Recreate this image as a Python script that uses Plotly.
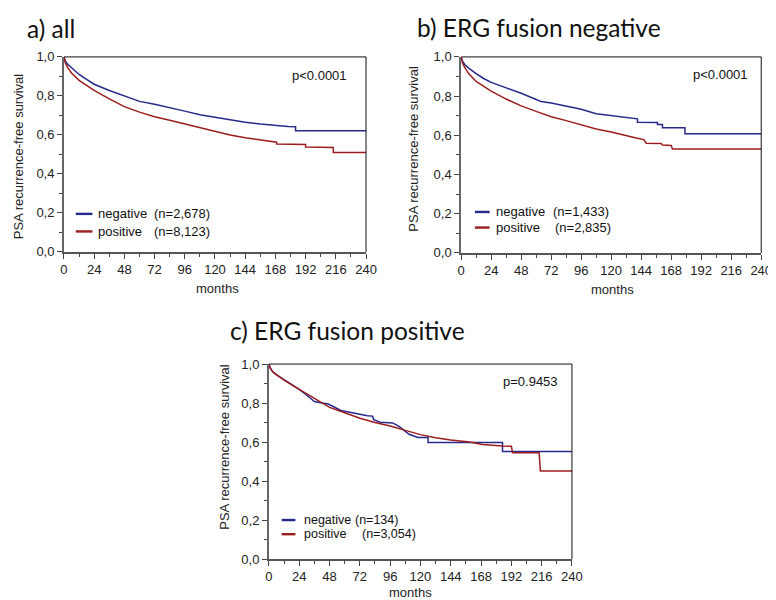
import plotly.graph_objects as go

# ---------------- data ----------------
x_ticks = [0, 24, 48, 72, 96, 120, 144, 168, 192, 216, 240]
y_ticks = [0.0, 0.2, 0.4, 0.6, 0.8, 1.0]

# a) all
a_neg_t = [0, 1, 3, 6, 12, 18, 24, 36, 48, 60, 72, 84, 96, 108, 120, 132, 144, 156, 168, 178,
           184, 184, 240]
a_neg_s = [1, 0.98, 0.962, 0.945, 0.91, 0.885, 0.86, 0.828, 0.80, 0.772, 0.757, 0.741, 0.722, 0.703,
           0.69, 0.676, 0.665, 0.656, 0.648, 0.643, 0.642, 0.622, 0.622]
a_pos_t = [0, 1, 3, 6, 12, 18, 24, 36, 48, 60, 72, 84, 96, 108, 120, 132, 144, 156, 169, 169,
           192, 192, 214, 214, 240]
a_pos_s = [1, 0.97, 0.945, 0.918, 0.88, 0.853, 0.828, 0.785, 0.745, 0.717, 0.693, 0.675, 0.656, 0.638,
           0.62, 0.60, 0.585, 0.575, 0.563, 0.553, 0.551, 0.538, 0.536, 0.51, 0.51]

# b) ERG fusion negative
b_neg_t = [0, 1, 3, 6, 12, 18, 24, 36, 48, 60, 64, 72, 84, 96, 108, 120, 132, 141, 141, 157, 157,
           161, 161, 179, 179, 240]
b_neg_s = [1, 0.98, 0.96, 0.943, 0.915, 0.89, 0.87, 0.843, 0.815, 0.783, 0.772, 0.765, 0.75, 0.733,
           0.71, 0.70, 0.688, 0.684, 0.667, 0.665, 0.655, 0.655, 0.638, 0.638, 0.608, 0.608]
b_pos_t = [0, 1, 3, 6, 12, 18, 24, 36, 48, 60, 72, 84, 96, 108, 120, 128, 140, 146, 148, 160, 161,
           168, 169, 240]
b_pos_s = [1, 0.97, 0.945, 0.915, 0.875, 0.85, 0.825, 0.785, 0.75, 0.722, 0.695, 0.675, 0.652, 0.632,
           0.617, 0.603, 0.586, 0.578, 0.56, 0.558, 0.55, 0.548, 0.53, 0.53]

# c) ERG fusion positive
c_neg_t = [0, 1, 3, 6, 12, 18, 24, 31, 36, 42, 47, 57, 67, 78, 82, 83, 88, 98, 103, 107, 111, 118,
           126, 126, 185, 185, 240]
c_neg_s = [1, 0.98, 0.96, 0.945, 0.92, 0.895, 0.87, 0.835, 0.808, 0.80, 0.795, 0.762, 0.748, 0.735,
           0.733, 0.715, 0.702, 0.698, 0.68, 0.66, 0.64, 0.623, 0.623, 0.598, 0.598, 0.552, 0.552]
c_pos_t = [0, 1, 3, 6, 12, 18, 24, 36, 48, 60, 72, 84, 96, 108, 120, 132, 144, 159, 169, 185, 192,
           193, 214, 215, 240]
c_pos_s = [1, 0.98, 0.96, 0.945, 0.918, 0.893, 0.87, 0.82, 0.778, 0.75, 0.722, 0.70, 0.682, 0.66,
           0.638, 0.622, 0.61, 0.60, 0.588, 0.58, 0.578, 0.545, 0.545, 0.452, 0.452]

panel_titles = ["a) all", "b) ERG fusion negative", "c) ERG fusion positive"]
p_values = ["p<0.0001", "p<0.0001", "p=0.9453"]
group_names = ["negative", "positive"]
n_labels = [["(n=2,678)", "(n=8,123)"], ["(n=1,433)", "(n=2,835)"], ["(n=134)", "(n=3,054)"]]

# ---------------- styling ----------------
W, H = 776, 600
BLUE = "#27298a"
RED = "#9c1d1d"
AX_FONT = "Liberation Sans, Arial, sans-serif"
TITLE_FONT = "Lato, Open Sans, sans-serif"
FS = 13

def px(x):
    return x / W

def py(y):
    return 1 - y / H

# plot areas in pixels: left, right, top, bottom
areas = [(53, 361, 43, 243), (458, 764, 43, 244), (262, 571, 358, 558)]
ids = [("x", "y"), ("x2", "y2"), ("x3", "y3")]
series = [
    [(a_neg_t, a_neg_s), (a_pos_t, a_pos_s)],
    [(b_neg_t, b_neg_s), (b_pos_t, b_pos_s)],
    [(c_neg_t, c_neg_s), (c_pos_t, c_pos_s)],
]

fig = go.Figure()
layout = dict(
    width=W, height=H, margin=dict(l=0, r=0, t=0, b=0),
    paper_bgcolor="white", plot_bgcolor="white", showlegend=False,
    separators=",.",
)
shapes = []
annotations = []

# per-panel text placement (pixels)
title_pos = [(13, 14), (411, 13), (220, 324)]
ylab_pos = [(6, 145), (409, 137), (217, 443)]
xlab_pos = [(210, 280), (612, 282), (406, 592)]
p_pos = [(344, 62), (753, 61), (559, 376)]
leg_line = [(65, 82), (472, 487), (275, 289)]
leg_rows = [(204, 222), (202, 218), (518, 532.5)]
leg_text_x = [86, 492, 296]
leg_n_x = [[143, 143], [550, 552], [348, 355]]

for i, ((l, r, t, b), (xa, ya)) in enumerate(zip(areas, ids)):
    for (tt, ss), name, col, n in zip(series[i], group_names, [BLUE, RED], n_labels[i]):
        fig.add_trace(go.Scatter(
            x=tt, y=ss, mode="lines",
            line=dict(color=col, width=1.5), name=f"{name} {n}",
            xaxis=xa, yaxis=ya, showlegend=False, hoverinfo="x+y",
        ))
    xkey = "xaxis" if xa == "x" else "xaxis" + xa[1:]
    ykey = "yaxis" if ya == "y" else "yaxis" + ya[1:]
    layout[xkey] = dict(
        domain=[px(l), px(r)], anchor=ya, range=[0, 240],
        tickvals=x_ticks, ticks="outside", ticklen=5, tickwidth=1, tickcolor="#444",
        showline=True, linecolor="#555", linewidth=1.5, showgrid=False, zeroline=False,
        tickfont=dict(family=AX_FONT, size=FS, color="#222"),
        minor=dict(ticks="outside", ticklen=3, dtick=12, tick0=0, tickcolor="#444", showgrid=False),
        fixedrange=True,
    )
    layout[ykey] = dict(
        domain=[py(b), py(t)], anchor=xa, range=[0, 1],
        tickvals=y_ticks, tickformat=".1f", ticks="outside", ticklen=5, tickwidth=1, tickcolor="#444",
        showline=True, linecolor="#666", linewidth=1.8, showgrid=False, zeroline=False,
        tickfont=dict(family=AX_FONT, size=FS, color="#222"),
        minor=dict(ticks="outside", ticklen=3, dtick=0.1, tick0=0, tickcolor="#444", showgrid=False),
        fixedrange=True,
    )
    # top and right frame lines
    xd, yd = xa + " domain", ya + " domain"
    shapes.append(dict(type="line", xref=xd, yref=yd, x0=0, x1=1, y0=1, y1=1,
                       line=dict(color="#111", width=1)))
    shapes.append(dict(type="line", xref=xd, yref=yd, x0=1, x1=1, y0=0, y1=1,
                       line=dict(color="#111", width=1)))

    # panel title
    tx, ty = title_pos[i]
    annotations.append(dict(text=panel_titles[i], x=px(tx), y=py(ty), xref="paper", yref="paper",
                            xanchor="left", yanchor="middle", showarrow=False,
                            font=dict(family=TITLE_FONT, size=24.5, color="#111")))
    # axis titles
    yx, yy = ylab_pos[i]
    annotations.append(dict(text="PSA recurrence-free survival", x=px(yx), y=py(yy), xref="paper",
                            yref="paper", textangle=-90, xanchor="center", yanchor="middle",
                            showarrow=False, font=dict(family=AX_FONT, size=13, color="#222")))
    mx, my = xlab_pos[i]
    annotations.append(dict(text="months", x=px(mx), y=py(my), xref="paper", yref="paper",
                            xanchor="center", yanchor="middle", showarrow=False,
                            font=dict(family=AX_FONT, size=13, color="#222")))
    # p value
    pxv, pyv = p_pos[i]
    annotations.append(dict(text=p_values[i], x=px(pxv), y=py(pyv), xref="paper", yref="paper",
                            xanchor="right", yanchor="middle", showarrow=False,
                            font=dict(family=AX_FONT, size=FS, color="#111")))
    # legend
    lx0, lx1 = leg_line[i]
    lfs = FS if i < 2 else 12.5
    for row, (name, col, n) in enumerate(zip(group_names, [BLUE, RED], n_labels[i])):
        yrow = leg_rows[i][row]
        shapes.append(dict(type="line", xref="paper", yref="paper", x0=px(lx0), x1=px(lx1),
                           y0=py(yrow), y1=py(yrow), line=dict(color=col, width=2.4)))
        annotations.append(dict(text=name, x=px(leg_text_x[i]), y=py(yrow), xref="paper",
                                yref="paper", xanchor="left", yanchor="middle", showarrow=False,
                                font=dict(family=AX_FONT, size=lfs, color="#111")))
        annotations.append(dict(text=n, x=px(leg_n_x[i][row]), y=py(yrow), xref="paper",
                                yref="paper", xanchor="left", yanchor="middle", showarrow=False,
                                font=dict(family=AX_FONT, size=lfs, color="#111")))

layout["shapes"] = shapes
layout["annotations"] = annotations
fig.update_layout(**layout)
fig.write_html("out.html")
